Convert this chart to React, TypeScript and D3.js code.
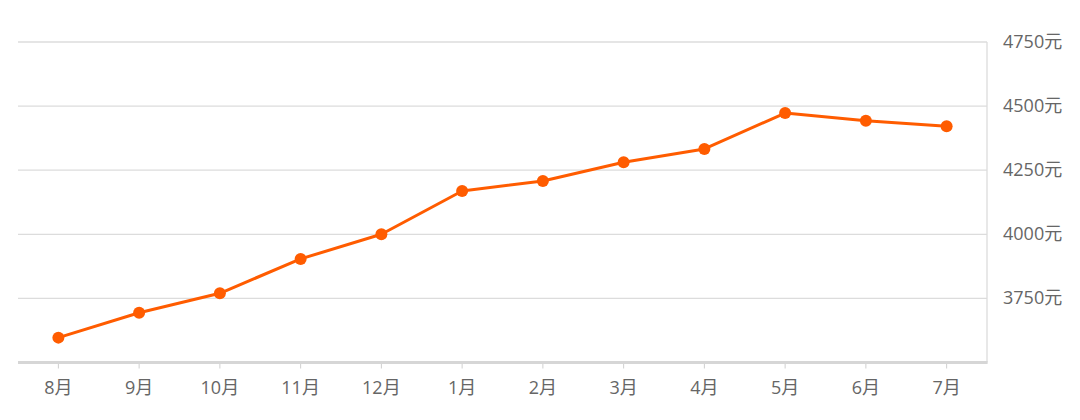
import React from "react";
import * as d3 from "d3";

const months: string[] = ["8月", "9月", "10月", "11月", "12月", "1月", "2月", "3月", "4月", "5月", "6月", "7月"];
const prices: number[] = [3597, 3694, 3770, 3904, 4000, 4169, 4208, 4281, 4333, 4473, 4443, 4421];
const yTicks: number[] = [3750, 4000, 4250, 4500, 4750];
const unit = "元";

const W = 1080;
const H = 420;
const left = 18;
const right = 987;
const top = 42;
const bottom = 362.5;

export default function App() {
  const x = d3.scaleBand<string>().domain(months).range([left, right]);
  const y = d3.scaleLinear().domain([3500, 4750]).range([bottom, top]);
  const cx = (m: string) => (x(m) ?? 0) + x.bandwidth() / 2;
  const line = d3
    .line<number>()
    .x((_, i) => cx(months[i]))
    .y((d) => y(d));
  const font = "'Open Sans', 'Noto Sans CJK SC', sans-serif";
  return (
    <svg
      width={W}
      height={H}
      style={{ position: "absolute", left: 0, top: 0, background: "#fff" }}
    >
      {yTicks.map((t) => (
        <line key={t} x1={left} x2={right} y1={y(t)} y2={y(t)} stroke="#dcdcdc" strokeWidth={1.3} />
      ))}
      <line x1={right} x2={right} y1={top} y2={bottom} stroke="#dcdcdc" strokeWidth={1.3} />
      <line x1={left} x2={right + 0.6} y1={bottom} y2={bottom} stroke="#d6d6d6" strokeWidth={3} />
      {months.map((m) => (
        <line key={m} x1={cx(m)} x2={cx(m)} y1={bottom + 1.5} y2={bottom + 6} stroke="#cfcfcf" strokeWidth={1} />
      ))}
      {yTicks.map((t) => (
        <text key={t} x={1003} y={y(t) + 6} fontSize={18} fill="#666" fontFamily={font}>
          {t + unit}
        </text>
      ))}
      {months.map((m) => (
        <text key={m} x={cx(m)} y={394} fontSize={18} fill="#666" textAnchor="middle" fontFamily={font}>
          {m}
        </text>
      ))}
      <path d={line(prices) ?? ""} fill="none" stroke="#ff5c00" strokeWidth={3} strokeLinejoin="round" />
      {prices.map((p, i) => (
        <circle key={i} cx={cx(months[i])} cy={y(p)} r={6} fill="#ff5c00" />
      ))}
    </svg>
  );
}
